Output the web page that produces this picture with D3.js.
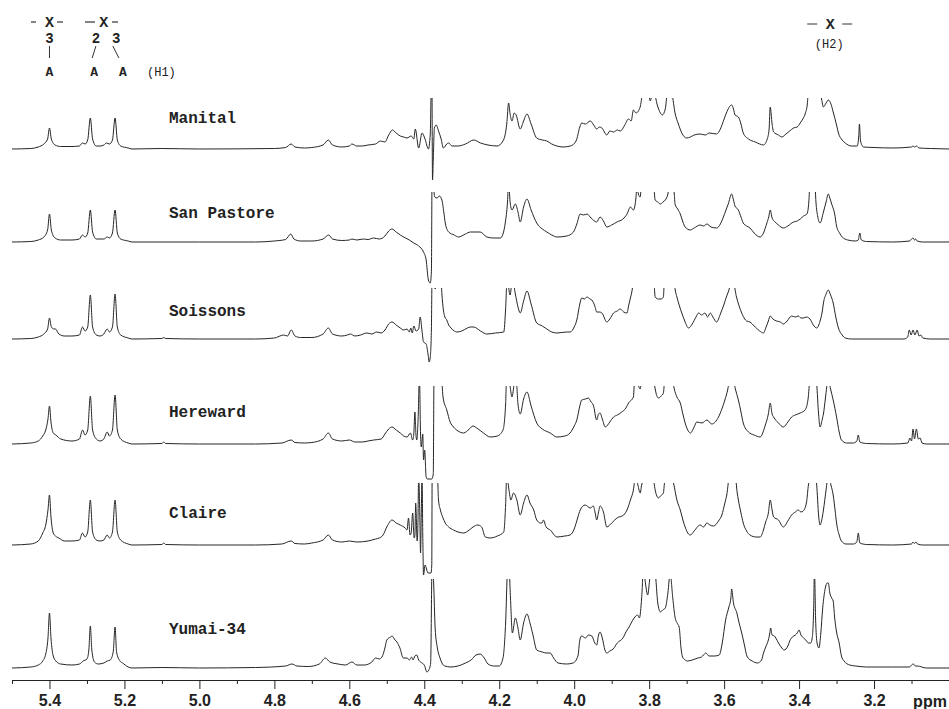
<!DOCTYPE html>
<html>
<head>
<meta charset="utf-8">
<script src="https://cdn.jsdelivr.net/npm/d3@7"></script>
<style>
  body { margin: 0; background: #fff; }
  .axis text { font-family: "Liberation Sans", Arial, sans-serif; font-weight: bold; font-size: 16px; fill: #222; }
  .axis path, .axis line { stroke: #222; }
</style>
</head>
<body>
<div id="chart"></div>
<script>
'use strict';

// cultivar names, top to bottom
const cultivars = ['Manital', 'San Pastore', 'Soissons', 'Hereward', 'Claire', 'Yumai-34'];

// spectra as [ppm, intensity (a.u.)] points
const manital = [[5.50,0],[5.45,0.5],[5.43,2],[5.415,5],[5.405,10],[5.400,21],[5.395,10],[5.385,4],[5.37,2.5],[5.34,2.5],[5.32,3],[5.312,6],[5.305,5],[5.298,9],[5.291,31],[5.285,10],[5.275,3],[5.265,3],[5.255,4],[5.248,6],[5.24,5],[5.232,9],[5.225,31],[5.219,9],[5.21,3],[5.19,1],[5.18,0],[5.10,0.5],[5.0,0],[4.80,0.5],[4.77,1.5],[4.755,5],[4.745,2],[4.72,1],[4.70,1.5],[4.67,4],[4.656,9],[4.645,4],[4.62,2],[4.60,3],[4.593,5],[4.58,3],[4.566,3],[4.55,4],[4.53,5],[4.517,8],[4.505,7],[4.495,14],[4.485,19],[4.475,16],[4.464,13],[4.455,12],[4.446,11],[4.435,13],[4.428,10],[4.424,20],[4.415,1],[4.406,16],[4.398,10],[4.389,0],[4.384,15],[4.380,90],[4.378,-31],[4.376,-10],[4.373,21],[4.368,24],[4.362,18],[4.355,10],[4.349,1],[4.34,5],[4.335,6],[4.326,3],[4.31,3],[4.29,5],[4.268,9],[4.25,6],[4.23,4],[4.206,3],[4.19,8],[4.18,25],[4.175,46],[4.171,35],[4.166,28],[4.16,36],[4.155,34],[4.144,20],[4.135,28],[4.126,35],[4.115,25],[4.10,11],[4.085,9],[4.073,8],[4.06,5],[4.046,3],[4.03,2],[4.01,3],[3.995,8],[3.985,22],[3.98,26],[3.97,25],[3.957,28],[3.948,24],[3.94,20],[3.933,22],[3.926,21],[3.913,14],[3.905,18],[3.895,17],[3.885,19],[3.877,18],[3.865,24],[3.855,30],[3.848,28],[3.842,39],[3.835,36],[3.824,42],[3.818,55],[3.81,60],[3.80,52],[3.797,48],[3.79,60],[3.785,55],[3.779,45],[3.77,36],[3.765,34],[3.757,40],[3.752,55],[3.745,60],[3.739,55],[3.731,36],[3.722,25],[3.713,16],[3.70,11],[3.69,12],[3.68,14],[3.664,15],[3.65,14],[3.64,16],[3.62,15],[3.61,20],[3.60,30],[3.594,36],[3.58,44],[3.575,40],[3.571,34],[3.562,32],[3.555,25],[3.549,16],[3.535,10],[3.517,7],[3.505,5],[3.495,4],[3.485,10],[3.48,20],[3.477,42],[3.472,25],[3.468,17],[3.455,14],[3.446,12],[3.435,15],[3.425,18],[3.415,21],[3.405,22],[3.397,26],[3.39,30],[3.383,36],[3.378,45],[3.375,60],[3.36,80],[3.345,60],[3.34,50],[3.335,42],[3.328,46],[3.322,49],[3.315,45],[3.309,37],[3.30,24],[3.295,16],[3.285,9],[3.277,6],[3.26,3],[3.245,3],[3.241,12],[3.239,25],[3.236,8],[3.228,2],[3.20,1.5],[3.15,1],[3.10,2],[3.096,3],[3.092,2],[3.087,3],[3.08,1],[3.05,0.5],[3.0,0]];

const sanPastore = [[5.50,0],[5.45,0.5],[5.43,2],[5.415,5],[5.405,12],[5.400,28],[5.395,12],[5.385,4],[5.37,2],[5.34,2],[5.32,3],[5.312,7],[5.305,5],[5.298,9],[5.291,32],[5.285,10],[5.275,3],[5.265,3],[5.255,3],[5.246,5],[5.24,4],[5.232,9],[5.225,32],[5.219,9],[5.21,3],[5.19,1],[5.18,0],[5.0,0],[4.85,0],[4.80,1],[4.77,2.5],[4.756,8],[4.748,3],[4.73,1],[4.70,1],[4.67,3],[4.655,7],[4.645,3],[4.62,1.5],[4.60,2],[4.593,3],[4.58,2],[4.563,3],[4.55,2.5],[4.535,4],[4.52,3],[4.505,6],[4.495,11],[4.486,13],[4.475,10],[4.464,7],[4.45,4],[4.44,2],[4.428,-1],[4.415,-4],[4.402,-10],[4.395,-18],[4.389,-38],[4.384,-41],[4.381,-30],[4.379,80],[4.376,60],[4.372,45],[4.366,44],[4.360,46],[4.353,42],[4.348,30],[4.344,19],[4.335,10],[4.32,7],[4.309,5],[4.29,8],[4.277,10],[4.268,10],[4.251,10],[4.233,5],[4.215,4],[4.197,4],[4.19,8],[4.184,19],[4.178,40],[4.175,60],[4.171,40],[4.166,32],[4.157,38],[4.15,30],[4.144,20],[4.135,35],[4.126,43],[4.115,32],[4.10,19],[4.085,13],[4.073,10],[4.06,7],[4.046,5],[4.02,6],[4.002,10],[3.993,18],[3.984,28],[3.975,27],[3.966,28],[3.955,24],[3.94,20],[3.931,25],[3.922,21],[3.913,15],[3.90,17],[3.886,20],[3.87,23],[3.859,28],[3.85,35],[3.842,32],[3.835,45],[3.833,60],[3.829,48],[3.824,45],[3.82,60],[3.81,70],[3.803,55],[3.79,65],[3.784,42],[3.777,40],[3.77,38],[3.763,40],[3.757,42],[3.75,48],[3.745,60],[3.739,65],[3.733,48],[3.731,38],[3.724,33],[3.717,28],[3.71,20],[3.704,15],[3.69,12],[3.68,14],[3.664,17],[3.655,16],[3.646,18],[3.635,15],[3.62,14],[3.61,18],[3.602,25],[3.595,32],[3.589,38],[3.58,48],[3.575,42],[3.571,36],[3.562,32],[3.555,25],[3.549,19],[3.54,16],[3.531,14],[3.52,9],[3.504,5],[3.495,9],[3.486,19],[3.481,25],[3.477,32],[3.472,24],[3.464,20],[3.455,17],[3.442,14],[3.43,16],[3.415,20],[3.405,21],[3.397,23],[3.388,26],[3.379,28],[3.374,40],[3.371,60],[3.365,70],[3.358,60],[3.355,40],[3.35,25],[3.344,19],[3.335,30],[3.328,40],[3.322,48],[3.318,44],[3.313,38],[3.305,28],[3.30,16],[3.292,9],[3.285,5],[3.27,2],[3.25,1],[3.242,2],[3.238,9],[3.234,2],[3.22,0.5],[3.15,0],[3.105,1],[3.10,3],[3.096,4],[3.092,2],[3.089,3],[3.085,1],[3.07,0],[3.0,0]];

const soissons = [[5.50,0],[5.45,0.5],[5.43,2],[5.415,5],[5.405,10],[5.400,21],[5.395,12],[5.388,10],[5.384,10],[5.375,5],[5.36,3],[5.34,3],[5.32,4],[5.312,12],[5.305,8],[5.298,12],[5.291,44],[5.285,12],[5.275,4],[5.265,3],[5.255,5],[5.246,10],[5.24,7],[5.232,12],[5.225,45],[5.219,12],[5.21,4],[5.19,1],[5.18,0],[5.10,0.5],[5.095,1.5],[5.09,0.5],[5.0,0],[4.85,0],[4.80,1],[4.775,4],[4.765,3],[4.755,9],[4.745,3],[4.73,1.5],[4.70,1.5],[4.67,5],[4.656,11],[4.645,5],[4.62,3],[4.605,4],[4.597,5],[4.585,3],[4.57,4],[4.553,6],[4.54,5],[4.527,7],[4.515,6],[4.505,9],[4.495,15],[4.486,17],[4.475,14],[4.464,11],[4.455,9],[4.446,10],[4.44,7],[4.436,11],[4.432,6],[4.428,13],[4.422,8],[4.415,10],[4.411,22],[4.406,8],[4.402,-3],[4.395,-5],[4.390,-15],[4.387,-23],[4.384,-18],[4.381,10],[4.379,70],[4.375,70],[4.371,50],[4.365,70],[4.357,70],[4.353,45],[4.349,29],[4.345,22],[4.34,19],[4.335,14],[4.331,12],[4.32,8],[4.313,7],[4.30,8],[4.285,11],[4.277,12],[4.268,12],[4.25,8],[4.233,5],[4.21,6],[4.188,7],[4.183,30],[4.179,60],[4.171,44],[4.165,60],[4.157,45],[4.15,32],[4.144,26],[4.135,38],[4.126,48],[4.115,35],[4.10,16],[4.085,13],[4.073,10],[4.06,7],[4.046,6],[4.02,7],[4.011,7],[4.0,12],[3.993,19],[3.985,35],[3.98,41],[3.973,40],[3.966,42],[3.958,40],[3.953,39],[3.945,33],[3.94,27],[3.933,27],[3.926,26],[3.913,17],[3.905,20],[3.895,26],[3.885,28],[3.877,30],[3.868,27],[3.859,26],[3.855,33],[3.85,41],[3.845,50],[3.842,60],[3.835,70],[3.81,75],[3.795,60],[3.787,55],[3.784,42],[3.775,40],[3.768,40],[3.762,42],[3.76,55],[3.757,65],[3.745,70],[3.735,60],[3.73,48],[3.726,42],[3.72,34],[3.713,26],[3.705,18],[3.695,11],[3.685,15],[3.675,22],[3.668,26],[3.66,24],[3.651,26],[3.644,22],[3.637,26],[3.63,22],[3.62,17],[3.61,25],[3.60,35],[3.594,42],[3.588,48],[3.582,55],[3.575,55],[3.567,42],[3.56,33],[3.553,26],[3.545,20],[3.54,18],[3.531,17],[3.525,15],[3.517,12],[3.505,8],[3.495,6],[3.488,12],[3.482,18],[3.477,23],[3.47,20],[3.46,18],[3.45,17],[3.442,15],[3.432,18],[3.42,23],[3.41,22],[3.402,23],[3.395,21],[3.389,21],[3.38,22],[3.371,20],[3.362,14],[3.353,11],[3.344,18],[3.338,28],[3.335,36],[3.328,45],[3.322,49],[3.316,44],[3.309,36],[3.302,22],[3.295,11],[3.285,4],[3.277,1],[3.26,0],[3.2,0],[3.12,0],[3.11,2],[3.106,9],[3.101,4],[3.096,9],[3.091,4],[3.085,9],[3.08,3],[3.075,4],[3.07,1],[3.05,0],[3.0,0]];

const hereward = [[5.50,0],[5.45,1],[5.43,3],[5.418,8],[5.41,14],[5.404,25],[5.400,38],[5.396,22],[5.39,11],[5.383,9],[5.37,5],[5.34,3],[5.32,5],[5.312,14],[5.305,9],[5.298,14],[5.291,48],[5.285,14],[5.275,5],[5.265,3],[5.255,5],[5.246,12],[5.24,8],[5.232,14],[5.225,49],[5.219,14],[5.21,5],[5.19,1],[5.18,0],[5.10,0.5],[5.095,2],[5.09,0.5],[5.0,0],[4.85,0],[4.78,1],[4.755,4],[4.745,1.5],[4.72,1],[4.70,1.5],[4.67,5],[4.656,11],[4.645,5],[4.62,3],[4.60,4],[4.585,2],[4.566,2],[4.55,3],[4.535,4],[4.515,5],[4.505,10],[4.495,15],[4.486,17],[4.475,14],[4.464,11],[4.455,8],[4.446,7],[4.437,11],[4.431,4],[4.428,10],[4.425,32],[4.422,8],[4.42,4],[4.416,30],[4.413,70],[4.41,10],[4.408,-3],[4.404,10],[4.402,-16],[4.399,-6],[4.395,-33],[4.392,-35],[4.38,-35],[4.376,-30],[4.374,70],[4.355,70],[4.35,47],[4.34,34],[4.331,22],[4.322,17],[4.31,13],[4.295,11],[4.28,15],[4.27,18],[4.26,16],[4.242,11],[4.224,7],[4.205,8],[4.19,14],[4.183,40],[4.18,70],[4.172,60],[4.166,47],[4.16,60],[4.155,65],[4.15,40],[4.144,30],[4.135,45],[4.126,52],[4.115,38],[4.10,21],[4.085,15],[4.064,11],[4.046,7],[4.025,8],[4.011,11],[4.0,18],[3.993,24],[3.985,38],[3.98,44],[3.97,45],[3.962,46],[3.955,42],[3.949,39],[3.94,24],[3.935,30],[3.931,31],[3.925,25],[3.917,17],[3.905,22],[3.895,27],[3.885,29],[3.873,32],[3.862,36],[3.855,41],[3.842,47],[3.838,70],[3.83,60],[3.824,55],[3.82,65],[3.80,75],[3.787,62],[3.784,55],[3.775,46],[3.768,48],[3.762,51],[3.759,62],[3.745,75],[3.738,65],[3.733,55],[3.726,47],[3.717,41],[3.71,30],[3.704,21],[3.697,14],[3.69,11],[3.68,17],[3.673,22],[3.659,21],[3.646,24],[3.633,20],[3.615,27],[3.605,36],[3.598,44],[3.59,55],[3.585,65],[3.576,65],[3.57,55],[3.562,44],[3.555,32],[3.549,21],[3.535,12],[3.52,9],[3.504,7],[3.49,19],[3.482,30],[3.477,41],[3.472,30],[3.468,27],[3.455,21],[3.442,17],[3.43,22],[3.42,27],[3.41,29],[3.397,31],[3.384,34],[3.376,45],[3.371,65],[3.36,75],[3.353,60],[3.348,30],[3.344,17],[3.338,25],[3.335,30],[3.33,45],[3.322,65],[3.316,55],[3.309,44],[3.30,27],[3.293,12],[3.287,4],[3.273,1],[3.255,1],[3.246,3],[3.242,9],[3.238,2],[3.22,0.5],[3.15,0],[3.11,1],[3.104,6],[3.10,3],[3.096,15],[3.092,5],[3.087,15],[3.082,5],[3.077,6],[3.072,1],[3.06,0],[3.0,0]];

const claire = [[5.50,0],[5.45,1],[5.43,4],[5.418,12],[5.41,20],[5.404,35],[5.400,50],[5.396,28],[5.39,12],[5.384,9],[5.375,7],[5.36,4],[5.34,4],[5.32,5],[5.312,12],[5.305,8],[5.298,13],[5.291,45],[5.285,13],[5.275,5],[5.265,4],[5.255,5],[5.246,10],[5.24,7],[5.232,13],[5.225,45],[5.219,13],[5.21,5],[5.19,1],[5.18,0],[5.10,0.5],[5.095,2],[5.09,0.5],[5.0,0],[4.85,0],[4.78,1],[4.755,4],[4.745,1.5],[4.72,1],[4.70,2],[4.67,5],[4.656,10],[4.645,5],[4.62,3],[4.60,4],[4.58,3],[4.55,4],[4.53,6],[4.52,7],[4.51,10],[4.50,18],[4.486,25],[4.475,22],[4.464,20],[4.451,17],[4.446,15],[4.442,27],[4.438,10],[4.435,12],[4.431,32],[4.427,7],[4.425,10],[4.423,42],[4.419,4],[4.417,20],[4.415,70],[4.412,30],[4.41,-8],[4.408,30],[4.406,70],[4.404,10],[4.402,-30],[4.398,-20],[4.39,-28],[4.382,-28],[4.38,-20],[4.379,70],[4.365,70],[4.362,45],[4.357,35],[4.35,27],[4.344,22],[4.335,18],[4.322,15],[4.31,13],[4.295,12],[4.28,15],[4.27,18],[4.257,20],[4.247,18],[4.237,8],[4.224,7],[4.205,9],[4.188,13],[4.183,40],[4.18,70],[4.174,55],[4.169,45],[4.162,52],[4.153,45],[4.144,30],[4.135,42],[4.126,50],[4.118,42],[4.108,35],[4.10,25],[4.09,22],[4.086,22],[4.082,25],[4.075,18],[4.064,15],[4.046,8],[4.025,9],[4.011,10],[4.0,16],[3.99,28],[3.984,35],[3.971,40],[3.957,37],[3.949,39],[3.944,32],[3.94,25],[3.935,33],[3.931,39],[3.922,33],[3.913,18],[3.90,22],[3.886,27],[3.868,30],[3.858,36],[3.85,45],[3.842,55],[3.836,70],[3.83,60],[3.824,52],[3.82,60],[3.80,75],[3.787,62],[3.784,55],[3.775,47],[3.77,49],[3.762,52],[3.759,62],[3.745,75],[3.735,62],[3.726,45],[3.717,35],[3.71,25],[3.704,18],[3.697,12],[3.69,10],[3.68,14],[3.664,20],[3.655,18],[3.646,22],[3.638,20],[3.628,19],[3.615,24],[3.606,30],[3.598,42],[3.593,50],[3.585,70],[3.571,70],[3.565,52],[3.562,45],[3.555,32],[3.549,22],[3.54,14],[3.531,10],[3.515,8],[3.504,8],[3.495,15],[3.49,22],[3.482,32],[3.477,45],[3.472,35],[3.468,28],[3.455,25],[3.442,18],[3.43,24],[3.42,30],[3.41,33],[3.402,35],[3.395,33],[3.389,34],[3.38,43],[3.375,60],[3.36,75],[3.353,60],[3.348,30],[3.344,20],[3.338,28],[3.335,35],[3.328,55],[3.322,70],[3.315,60],[3.309,50],[3.304,35],[3.30,22],[3.293,10],[3.287,4],[3.275,1],[3.255,1],[3.246,3],[3.242,12],[3.238,2],[3.22,0.5],[3.15,0],[3.10,1],[3.096,3],[3.092,1.5],[3.088,3],[3.084,1],[3.07,0],[3.0,0]];

const yumai = [[5.50,0],[5.45,1],[5.43,3],[5.418,7],[5.41,14],[5.404,30],[5.400,55],[5.396,30],[5.39,12],[5.383,7],[5.37,4],[5.34,3],[5.32,4],[5.31,7],[5.30,9],[5.295,18],[5.291,42],[5.287,18],[5.28,6],[5.27,4],[5.255,5],[5.246,7],[5.238,8],[5.23,16],[5.225,41],[5.221,16],[5.212,7],[5.205,5],[5.19,1],[5.18,0],[5.10,0.5],[5.0,0],[4.85,0.5],[4.77,2],[4.753,4],[4.74,2],[4.71,1.5],[4.68,4],[4.664,10],[4.652,6],[4.63,4],[4.61,3],[4.593,6],[4.58,3],[4.56,3],[4.54,6],[4.53,10],[4.52,9],[4.513,11],[4.505,20],[4.50,28],[4.49,31],[4.486,32],[4.478,28],[4.473,26],[4.465,20],[4.456,10],[4.446,10],[4.44,8],[4.434,11],[4.43,8],[4.425,12],[4.42,13],[4.415,8],[4.41,6],[4.40,3],[4.393,-4],[4.388,-2],[4.383,5],[4.379,110],[4.375,85],[4.371,40],[4.365,20],[4.358,10],[4.353,5],[4.345,2],[4.33,1],[4.31,2],[4.29,5],[4.275,8],[4.262,13],[4.251,14],[4.24,10],[4.23,4],[4.215,2],[4.20,2],[4.19,10],[4.183,45],[4.178,100],[4.175,110],[4.17,70],[4.165,35],[4.157,50],[4.15,40],[4.144,28],[4.135,45],[4.126,54],[4.118,45],[4.11,33],[4.10,18],[4.085,16],[4.075,15],[4.064,15],[4.055,10],[4.043,5],[4.02,4],[4.003,5],[3.99,12],[3.985,28],[3.98,32],[3.97,30],[3.962,33],[3.953,32],[3.945,25],[3.94,23],[3.935,33],[3.931,36],[3.925,30],[3.918,18],[3.913,15],[3.905,17],[3.896,19],[3.885,25],[3.87,30],[3.859,38],[3.855,40],[3.848,45],[3.84,50],[3.831,53],[3.826,50],[3.82,70],[3.815,100],[3.81,85],[3.804,73],[3.798,90],[3.79,100],[3.784,95],[3.777,65],[3.77,56],[3.764,58],[3.757,60],[3.75,75],[3.744,95],[3.737,70],[3.731,51],[3.724,44],[3.72,41],[3.715,20],[3.711,11],[3.704,8],[3.698,7],[3.685,8],[3.67,10],[3.66,11],[3.655,13],[3.649,15],[3.64,12],[3.625,12],[3.613,13],[3.605,25],[3.596,48],[3.588,60],[3.582,70],[3.58,79],[3.575,65],[3.566,55],[3.56,45],[3.553,35],[3.547,25],[3.538,11],[3.525,7],[3.511,5],[3.50,8],[3.495,15],[3.489,21],[3.482,28],[3.478,35],[3.476,40],[3.472,33],[3.466,32],[3.462,30],[3.455,25],[3.448,21],[3.44,18],[3.43,22],[3.425,27],[3.418,31],[3.41,33],[3.405,35],[3.40,38],[3.395,33],[3.388,30],[3.382,28],[3.375,25],[3.369,25],[3.365,30],[3.361,60],[3.359,100],[3.356,50],[3.352,25],[3.347,20],[3.342,35],[3.337,60],[3.33,80],[3.325,85],[3.322,85],[3.318,75],[3.313,70],[3.309,67],[3.305,50],[3.30,36],[3.293,25],[3.287,12],[3.28,7],[3.265,3],[3.249,2],[3.22,1],[3.15,1],[3.105,1],[3.10,3],[3.095,4],[3.09,2],[3.085,2],[3.06,0],[3.0,0]];

const spectra = [manital, sanPastore, soissons, hereward, claire, yumai];

// axis ticks (ppm)
const majorTicks = [5.4, 5.2, 5.0, 4.8, 4.6, 4.4, 4.2, 4.0, 3.8, 3.6, 3.4, 3.2];
const minorTicks = [5.5, 5.3, 5.1, 4.9, 4.7, 4.5, 4.3, 4.1, 3.9, 3.7, 3.5, 3.3, 3.1];

// assignment labels above the anomeric (H1) and H2 signals
const h1Numbers = ['3', '2', '3'];
const h1NumberPpm = [5.40, 5.276, 5.222];
const h1AnomerPpm = [5.40, 5.281, 5.204];
const h1LinkPpm = [5.40, 5.255];
const h2Ppm = 3.317;

var Charts = function charts() {

    let svg = null;
    let xScale;

    // panel geometry: baseline, top of the visible band, label baseline
    let panels = [
        { base: 149, top: 98,  bottom: 189, label: 122.7 },
        { base: 242, top: 192, bottom: 285, label: 218.3 },
        { base: 339, top: 288, bottom: 382, label: 316 },
        { base: 444, top: 386, bottom: 480, label: 416.7 },
        { base: 545, top: 483, bottom: 576, label: 517.7 },
        { base: 668, top: 579, bottom: 679, label: 634.3 }
    ];

    let renderSVG = function renderSVG(element, config) {
        svg = d3.select(element)
            .append('svg')
            .attr('width', config.width)
            .attr('height', config.height)
            .style('display', 'block');
    }

    let setScale = function setScale(config) {
        xScale = d3.scaleLinear()
            .domain([5.5, 3.0])
            .range([config.left, config.right]);
    }

    let drawSpectra = function drawSpectra(config) {

        let defs = svg.append('defs');

        spectra.forEach((data, i) => {
            let p = panels[i];

            defs.append('clipPath')
                .attr('id', 'clip-' + i)
                .append('rect')
                .attr('x', 0)
                .attr('y', p.top)
                .attr('width', config.width)
                .attr('height', p.bottom - p.top);

            let yScale = d3.scaleLinear()
                .domain([0, 100])
                .range([p.base, p.base - 100]);

            // descending ppm, no repeated x
            let pts = data.slice().sort((a, b) => b[0] - a[0])
                .filter((d, j, arr) => j === 0 || d[0] !== arr[j - 1][0]);

            let line = d3.line()
                .curve(d3.curveMonotoneX)
                .x(d => xScale(d[0]))
                .y(d => yScale(d[1]));

            svg.append('path')
                .datum(pts)
                .attr('class', 'spectrum')
                .attr('clip-path', 'url(#clip-' + i + ')')
                .attr('fill', 'none')
                .attr('stroke', '#262626')
                .attr('stroke-width', 1)
                .attr('stroke-linejoin', 'round')
                .attr('d', line);

            svg.append('text')
                .attr('x', 169)
                .attr('y', p.label)
                .attr('font-family', '"Liberation Mono", "Courier New", monospace')
                .attr('font-weight', 'bold')
                .attr('font-size', 16)
                .attr('fill', '#222')
                .text(cultivars[i]);
        });
    }

    let renderXAxis = function renderXAxis(config) {

        let majorAxis = d3.axisBottom(xScale)
            .tickValues(majorTicks)
            .tickSize(9)
            .tickSizeOuter(0)
            .tickPadding(6)
            .tickFormat(d3.format('.1f'));

        let minorAxis = d3.axisBottom(xScale)
            .tickValues(minorTicks)
            .tickSize(4)
            .tickSizeOuter(0)
            .tickFormat('');

        let g = svg.append('g')
            .attr('class', 'axis')
            .attr('transform', 'translate(0,' + config.axisY + ')');

        g.append('g').call(minorAxis).select('.domain').remove();
        g.append('g').call(majorAxis);
        g.selectAll('text').attr('font-size', null).attr('font-family', null);

        svg.append('text')
            .attr('x', 930)
            .attr('y', config.axisY + 26.5)
            .attr('text-anchor', 'middle')
            .attr('font-family', '"Liberation Sans", Arial, sans-serif')
            .attr('font-weight', 'bold')
            .attr('font-size', 16)
            .attr('fill', '#222')
            .text('ppm');
    }

    let drawAnnotations = function drawAnnotations() {

        let mono = '"Liberation Mono", "Courier New", monospace';
        let ann = svg.append('g').attr('class', 'annotations').attr('fill', '#222');

        // -X- linkage headers
        h1LinkPpm.forEach(ppm => {
            ann.append('text')
                .attr('x', xScale(ppm))
                .attr('y', 27)
                .attr('text-anchor', 'middle')
                .attr('font-family', mono)
                .attr('font-weight', 'bold')
                .attr('font-size', 15)
                .text('X');
        });
        [[31, 36], [57, 63], [85, 95], [112, 118]].forEach(d => {
            ann.append('line')
                .attr('x1', d[0]).attr('x2', d[1])
                .attr('y1', 22).attr('y2', 22)
                .attr('stroke', '#333').attr('stroke-width', 1.2);
        });

        h1Numbers.forEach((n, i) => {
            let xn = xScale(h1NumberPpm[i]);
            let xa = xScale(h1AnomerPpm[i]);
            ann.append('text')
                .attr('x', xn)
                .attr('y', 43)
                .attr('text-anchor', 'middle')
                .attr('font-family', mono)
                .attr('font-weight', 'bold')
                .attr('font-size', 14)
                .text(n);
            ann.append('line')
                .attr('x1', xn - (xa - xn) * 0.5 * (i === 0 ? 0 : 1) + (i === 1 ? -1 : 0))
                .attr('y1', 46)
                .attr('x2', xn + (xa - xn) * (i === 0 ? 0 : 0.4) + (i === 1 ? -3 : 0))
                .attr('y2', 58)
                .attr('stroke', '#333')
                .attr('stroke-width', 1);
            ann.append('text')
                .attr('x', xa)
                .attr('y', 76)
                .attr('text-anchor', 'middle')
                .attr('font-family', mono)
                .attr('font-weight', 'bold')
                .attr('font-size', 13)
                .text('A');
        });

        ann.append('text')
            .attr('x', 147)
            .attr('y', 76)
            .attr('font-family', mono)
            .attr('font-size', 12)
            .text('(H1)');

        // H2 header
        let xh = xScale(h2Ppm);
        ann.append('text')
            .attr('x', xh)
            .attr('y', 29)
            .attr('text-anchor', 'middle')
            .attr('font-family', mono)
            .attr('font-weight', 'bold')
            .attr('font-size', 15)
            .text('X');
        [[-23, -13], [12, 22]].forEach(d => {
            ann.append('line')
                .attr('x1', xh + d[0]).attr('x2', xh + d[1])
                .attr('y1', 24).attr('y2', 24)
                .attr('stroke', '#333').attr('stroke-width', 1);
        });
        ann.append('text')
            .attr('x', xh - 1)
            .attr('y', 48)
            .attr('text-anchor', 'middle')
            .attr('font-family', mono)
            .attr('font-size', 12)
            .text('(H2)');
    }

    let nmrStack = function nmrStack(el) {
        let config = {
            width: 949,
            height: 709,
            left: 12,
            right: 949,
            axisY: 680
        };
        renderSVG(el, config);
        setScale(config);
        drawSpectra(config);
        renderXAxis(config);
        drawAnnotations();
    }

    return {
        nmrStack: nmrStack
    }
}

Charts().nmrStack('#chart');
</script>
</body>
</html>
